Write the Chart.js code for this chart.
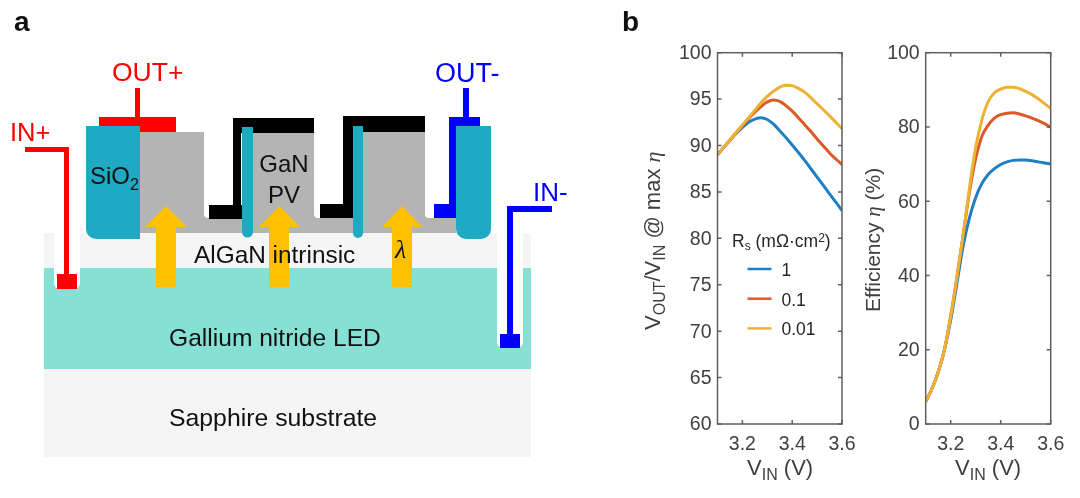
<!DOCTYPE html>
<html>
<head>
<meta charset="utf-8">
<script src="https://cdn.jsdelivr.net/npm/chart.js@4"></script>
<style>
  html, body { margin: 0; padding: 0; background: #fff; }
  #page { position: relative; width: 1080px; height: 498px; overflow: hidden; font-family: "Liberation Sans", sans-serif; }
  canvas { position: absolute; top: 0; }
  #chartV { left: 640px; }
  #chartE { left: 860px; }
  svg { position: absolute; left: 0; top: 0; }
  svg text { font-family: "Liberation Sans", sans-serif; fill: #111; }
  svg .axis { fill: #404040; font-size: 22px; }
  svg .eta { font-family: "Liberation Serif", serif; font-style: italic; }
</style>
</head>
<body>
<div id="page">
  <canvas id="chartV" width="240" height="498"></canvas>
  <canvas id="chartE" width="220" height="498"></canvas>
  <svg width="1080" height="498" viewBox="0 0 1080 498">
    <!-- panel a: device layers -->
    <rect x="44" y="369" width="487" height="88" fill="#f5f5f5"/>
    <rect x="44" y="268" width="487" height="101" fill="#86e0d4"/>
    <rect x="44" y="233" width="487" height="35" fill="#f5f5f5"/>
    <path d="M54 233H80V283a6 6 0 0 1-6 6H60a6 6 0 0 1-6-6Z" fill="#fff"/>
    <path d="M497 233H523V342a6 6 0 0 1-6 6H503a6 6 0 0 1-6-6Z" fill="#fff"/>
    <rect x="140" y="132" width="316" height="101" fill="#b4b4b4"/>
    <rect x="204" y="100" width="38" height="118" rx="4" fill="#fff"/>
    <rect x="314" y="100" width="39" height="118" rx="4" fill="#fff"/>
    <rect x="425" y="100" width="31" height="118" rx="4" fill="#fff"/>
    <!-- contacts -->
    <path d="M233 118H314V133H241V205H242V219H209V205H233Z" fill="#000"/>
    <path d="M343 116H425V132H353V218H320V204H343Z" fill="#000"/>
    <path d="M135 88H140V117H176V132H140V126H99V117H135Z" fill="#f00"/>
    <path d="M463 88H469V117H480V126H456V218H434V204H449V117H463Z" fill="#00f"/>
    <!-- oxide -->
    <path d="M86 126H140V239H96a10 10 0 0 1-10-10Z" fill="#1fa9c2"/>
    <path d="M456 126H491V229a10 10 0 0 1-10 10H466a10 10 0 0 1-10-10Z" fill="#1fa9c2"/>
    <path d="M242 127H253V232a5.500 5.500 0 0 1-11 0Z" fill="#1fa9c2"/>
    <path d="M353 126H363V233a5 5 0 0 1-10 0Z" fill="#1fa9c2"/>
    <!-- light arrows -->
    <path d="M156 287V227H145L166 206L187 227H176V287Z" fill="#ffc000"/>
    <path d="M269 287V227H259L279.500 206L300 227H289V287Z" fill="#ffc000"/>
    <path d="M392 287V227H382L402 206L422 227H412V287Z" fill="#ffc000"/>
    <!-- input wires -->
    <path d="M25 147H69V274H77V289H57V274H64V152H25Z" fill="#f00"/>
    <path d="M507 206H552V212H513V334H520V348H500V334H507Z" fill="#00f"/>
    <!-- panel a: labels -->
    <text x="14" y="31" font-size="28" font-weight="bold">a</text>
    <text x="622" y="31" font-size="28" font-weight="bold">b</text>
    <text x="112" y="81" font-size="26.500" style="fill:#f00">OUT+</text>
    <text x="435" y="82" font-size="27" style="fill:#00f">OUT-</text>
    <text x="10" y="141" font-size="25.500" style="fill:#f00">IN+</text>
    <text x="533" y="201" font-size="26" style="fill:#00f">IN-</text>
    <text x="90" y="184" font-size="24">SiO<tspan font-size="16" dy="6">2</tspan></text>
    <text x="284" y="172" font-size="24" text-anchor="middle">GaN</text>
    <text x="284" y="203" font-size="24" text-anchor="middle">PV</text>
    <text x="194" y="263" font-size="24.400">AlGaN intrinsic</text>
    <text x="395" y="258" font-size="26" style="font-family:'Liberation Serif',serif;font-style:italic">λ</text>
    <text x="169" y="346" font-size="24.600">Gallium nitride LED</text>
    <text x="169" y="426" font-size="24.800">Sapphire substrate</text>
    <!-- panel b: axis titles -->
    <text class="axis" transform="translate(660 330) rotate(-90)">V<tspan font-size="16" dy="5">OUT</tspan><tspan dy="-5">/V</tspan><tspan font-size="16" dy="5">IN</tspan><tspan dy="-5"> @ max </tspan><tspan class="eta">η</tspan></text>
    <text class="axis" transform="translate(880 312) rotate(-90)" style="font-size:21px">Efficiency <tspan class="eta">η</tspan> (%)</text>
    <text class="axis" x="747" y="475">V<tspan font-size="16" dy="5">IN</tspan><tspan dy="-5"> (V)</tspan></text>
    <text class="axis" x="955" y="475">V<tspan font-size="16" dy="5">IN</tspan><tspan dy="-5"> (V)</tspan></text>
    <text x="732" y="247" font-size="17.500" style="fill:#262626">R<tspan font-size="12" dy="3">s</tspan><tspan dy="-3"> (mΩ·cm</tspan><tspan font-size="12" dy="-5">2</tspan><tspan dy="5">)</tspan></text>
  </svg>
</div>
<script>
const vin = [3.1, 3.125, 3.15, 3.175, 3.2, 3.225, 3.25, 3.275, 3.3, 3.325, 3.35, 3.375, 3.4, 3.425, 3.45, 3.475, 3.5, 3.525, 3.55, 3.575, 3.6];
const rsLabels = ['1', '0.1', '0.01'];
const rsColors = ['#1f7fc4', '#db5a26', '#edb134'];

const ratio1 = [89, 89.8, 90.55, 91.3, 91.95, 92.5, 92.85, 93, 92.8, 92.3, 91.6, 90.85, 90.05, 89.25, 88.4, 87.5, 86.6, 85.7, 84.8, 83.9, 83];
const ratio01 = [89, 89.8, 90.6, 91.4, 92.15, 92.9, 93.6, 94.2, 94.7, 94.9, 94.75, 94.3, 93.7, 93, 92.25, 91.5, 90.7, 89.95, 89.2, 88.55, 87.95];
const ratio001 = [89, 89.8, 90.6, 91.4, 92.2, 93, 93.8, 94.6, 95.3, 95.85, 96.3, 96.5, 96.45, 96.15, 95.75, 95.15, 94.5, 93.85, 93.2, 92.5, 91.8];

const eff1 = [6, 9.5, 14, 20, 28, 38, 48, 55.5, 61, 64.8, 67.2, 68.8, 69.9, 70.6, 71, 71.1, 71.1, 70.9, 70.6, 70.3, 70];
const eff01 = [6, 9.5, 14, 20, 29, 39.5, 51, 62.5, 71.5, 77.5, 80.5, 82.4, 83.3, 83.7, 83.8, 83.5, 83, 82.4, 81.7, 80.9, 79.9];
const eff001 = [6, 9.5, 14, 20, 29, 39.5, 51, 63.5, 74.5, 82, 86.8, 89.2, 90.2, 90.7, 90.7, 90.3, 89.6, 88.7, 87.6, 86.3, 85];

const xTicks = [3.2, 3.4, 3.6];
const ratioTicks = [60, 65, 70, 75, 80, 85, 90, 95, 100];
const effTicks = [0, 20, 40, 60, 80, 100];

// box round the plot and short inward ticks on all four sides
const boxTicks = {
    id: 'boxTicks',
    afterDatasetsDraw(chart) {
        const { ctx, chartArea: a, scales } = chart;
        ctx.save();
        ctx.strokeStyle = '#5f5f5f';
        ctx.lineWidth = 1.5;
        ctx.strokeRect(a.left, a.top, a.right - a.left, a.bottom - a.top);
        ctx.beginPath();
        scales.x.ticks.forEach(t => {
            const x = scales.x.getPixelForValue(t.value);
            ctx.moveTo(x, a.bottom); ctx.lineTo(x, a.bottom - 4);
            ctx.moveTo(x, a.top); ctx.lineTo(x, a.top + 4);
        });
        scales.y.ticks.forEach(t => {
            const y = scales.y.getPixelForValue(t.value);
            ctx.moveTo(a.left, y); ctx.lineTo(a.left + 4, y);
            ctx.moveTo(a.right, y); ctx.lineTo(a.right - 4, y);
        });
        ctx.stroke();
        ctx.restore();
    }
};

// legend entries inside the left plot
const rsLegend = {
    id: 'rsLegend',
    afterDraw(chart) {
        if (chart.canvas.id !== 'chartV') return;
        const ctx = chart.ctx;
        ctx.save();
        ctx.font = '17.5px "Liberation Sans"';
        ctx.textBaseline = 'alphabetic';
        chart.data.datasets.forEach((d, i) => {
            const y = 269 + i * 29.7;
            ctx.strokeStyle = d.borderColor;
            ctx.lineWidth = 2.5;
            ctx.beginPath();
            ctx.moveTo(107.5, y);
            ctx.lineTo(131.5, y);
            ctx.stroke();
            ctx.fillStyle = '#262626';
            ctx.fillText(d.label, 141.5, y + 7);
        });
        ctx.restore();
    }
};

function makeSeries(values, i) {
    return {
        label: rsLabels[i],
        data: vin.map((v, k) => ({ x: v, y: values[k] })),
        borderColor: rsColors[i],
        borderWidth: 3,
        pointRadius: 0,
        cubicInterpolationMode: 'monotone',
        order: 3 - i
    };
}

function makeChart(id, series, yMin, yMax, yTicks, leftWidth, rightPad) {
    new Chart(document.getElementById(id).getContext('2d'), {
        type: 'line',
        data: { datasets: series.map(makeSeries) },
        options: {
            responsive: false,
            animation: false,
            layout: { padding: { top: 52.7, right: rightPad, bottom: 0, left: 0 } },
            plugins: { legend: { display: false }, tooltip: { enabled: false } },
            scales: {
                x: {
                    type: 'linear',
                    min: 3.1,
                    max: 3.6,
                    grid: { display: false, drawTicks: false },
                    border: { display: false },
                    afterBuildTicks: s => { s.ticks = xTicks.map(v => ({ value: v })); },
                    afterFit: s => { s.height = 74; },
                    ticks: {
                        padding: 9,
                        maxRotation: 0,
                        color: '#404040',
                        font: { family: 'Liberation Sans', size: 19.5 },
                        callback: v => v.toFixed(1)
                    }
                },
                y: {
                    min: yMin,
                    max: yMax,
                    grid: { display: false, drawTicks: false },
                    border: { display: false },
                    afterBuildTicks: s => { s.ticks = yTicks.map(v => ({ value: v })); },
                    afterFit: s => { s.width = leftWidth; },
                    ticks: {
                        padding: 6,
                        labelOffset: 1,
                        color: '#404040',
                        font: { family: 'Liberation Sans', size: 19.5 }
                    }
                }
            }
        },
        plugins: [boxTicks, rsLegend]
    });
}

makeChart('chartV', [ratio1, ratio01, ratio001], 60, 100, ratioTicks, 77.5, 38);
makeChart('chartE', [eff1, eff01, eff001], 0, 100, effTicks, 65.7, 29.3);
</script>
</body>
</html>
